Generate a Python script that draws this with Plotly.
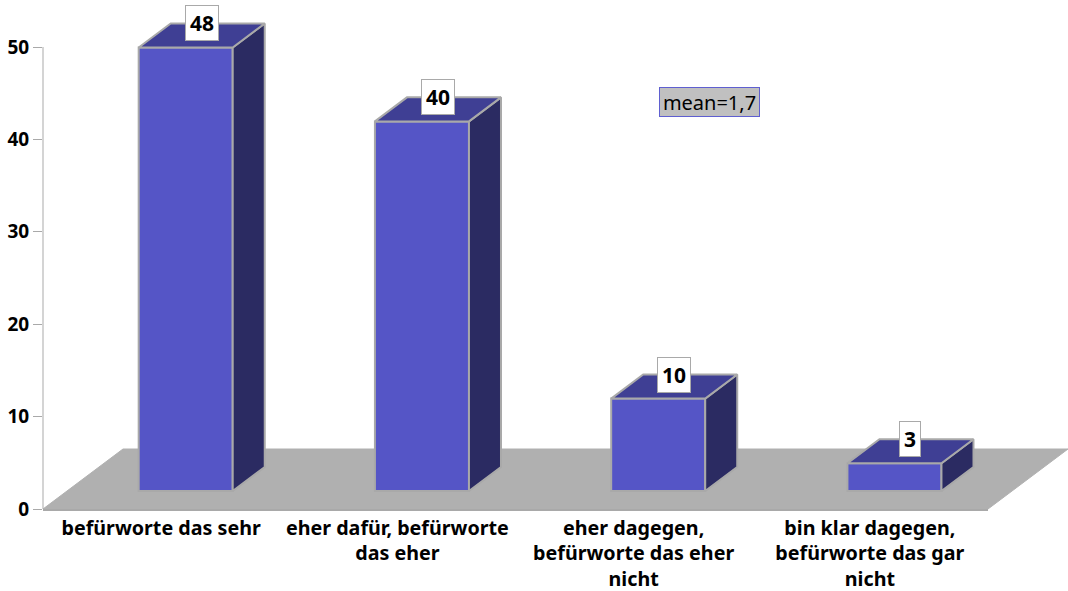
"""Survey result chart: 3D looking bars on a grey floor, built with Plotly."""

import plotly.graph_objects as go

categories = [
    "befürworte das sehr",
    "eher dafür, befürworte<br>das eher",
    "eher dagegen,<br>befürworte das eher<br>nicht",
    "bin klar dagegen,<br>befürworte das gar<br>nicht",
]
values = [48, 40, 10, 3]
y_ticks = [0, 10, 20, 30, 40, 50]
mean_label = "mean=1,7"

# fake 3D settings, in axis units
BAR_BASE = 1.95
BAR_SHIFT = 0.104
BAR_WIDTH = 0.398
DEPTH_X = 0.1356
DEPTH_Y = 2.6

FONT = "Noto Sans"
FRONT = "#5555c6"
TOP = "#3f3f94"
SIDE = "#2b2b62"
EDGE = "#a9a9a9"
FLOOR = "#b0b0b0"

# plot area in pixels. y range runs past 50 so the bar tops are not clipped
WIDTH, HEIGHT = 1068, 591
LEFT, RIGHT, UPPER, LOWER = 43, 80, 0, 82
PLOT_W = WIDTH - LEFT - RIGHT
PLOT_H = HEIGHT - UPPER - LOWER
Y_MAX = PLOT_H / 9.24


def paper_x(x):
    return (x + 0.5) / 4


def paper_y(y):
    return y / Y_MAX


fig = go.Figure()

left = [i + BAR_SHIFT - BAR_WIDTH / 2 for i in range(len(values))]
right = [i + BAR_SHIFT + BAR_WIDTH / 2 for i in range(len(values))]
top = [v + BAR_BASE for v in values]

fig.add_trace(go.Bar(
    x=[i + BAR_SHIFT for i in range(len(values))],
    y=values,
    base=BAR_BASE,
    width=BAR_WIDTH,
    marker=dict(color=FRONT, line=dict(color=EDGE, width=2)),
))

side_x, side_y, top_x, top_y = [], [], [], []
for l, r, t in zip(left, right, top):
    side_x += [r, r + DEPTH_X, r + DEPTH_X, r, r, None]
    side_y += [BAR_BASE, BAR_BASE + DEPTH_Y, t + DEPTH_Y, t, BAR_BASE, None]
    top_x += [l, l + DEPTH_X, r + DEPTH_X, r, l, None]
    top_y += [t, t + DEPTH_Y, t + DEPTH_Y, t, t, None]

for xs, ys, color in [(side_x, side_y, SIDE), (top_x, top_y, TOP)]:
    fig.add_trace(go.Scatter(
        x=xs,
        y=ys,
        mode='lines',
        fill='toself',
        fillcolor=color,
        line=dict(color=EDGE, width=2),
    ))

# floor reaches past the plot area, so it lives in paper units
floor_dx = 80 / PLOT_W
floor_dy = 60 / PLOT_H
fig.add_shape(
    type='path',
    xref='paper',
    yref='paper',
    path=f"M 0 0 L 1 0 L {1 + floor_dx} {floor_dy} L {floor_dx} {floor_dy} Z",
    fillcolor=FLOOR,
    line=dict(color=FLOOR, width=1),
    layer='below',
)

# axis line stops at the last tick
fig.add_shape(
    type='line',
    xref='paper',
    yref='paper',
    x0=0,
    x1=0,
    y0=0,
    y1=paper_y(max(y_ticks)),
    line=dict(color=EDGE, width=1),
)

for i, v in enumerate(values):
    fig.add_annotation(
        xref='paper',
        yref='paper',
        x=paper_x(i + BAR_SHIFT + DEPTH_X / 2),
        y=paper_y(v + BAR_BASE + DEPTH_Y),
        xanchor='center',
        yanchor='middle',
        text=f"<b>{v}</b>",
        showarrow=False,
        font=dict(family=FONT, size=21, color='black'),
        bgcolor='white',
        bordercolor=EDGE,
        borderwidth=1,
        width=12 * len(str(v)) + 6,
        height=32,
    )

fig.add_annotation(
    xref='paper',
    yref='paper',
    x=(709.5 - LEFT) / PLOT_W,
    y=(HEIGHT - LOWER - 102) / PLOT_H,
    xanchor='center',
    yanchor='middle',
    text=mean_label,
    showarrow=False,
    font=dict(family=FONT, size=20, color='black'),
    bgcolor='#c0c0c0',
    bordercolor='#5f5fd0',
    borderwidth=1,
    width=97,
    height=26,
)

fig.update_layout(
    width=WIDTH,
    height=HEIGHT,
    margin=dict(l=LEFT, r=RIGHT, t=UPPER, b=LOWER),
    paper_bgcolor='white',
    plot_bgcolor='rgba(0,0,0,0)',
    showlegend=False,
    font=dict(family=FONT, color='black'),
    xaxis=dict(
        range=[-0.5, 3.5],
        automargin=False,
        tickmode='array',
        tickvals=list(range(len(categories))),
        ticktext=[f"<b>{c}</b>" for c in categories],
        tickangle=0,
        ticks='',
        showgrid=False,
        zeroline=False,
        showline=True,
        linecolor=EDGE,
        linewidth=2,
        tickfont=dict(family=FONT, size=19.7, color='black'),
    ),
    yaxis=dict(
        range=[0, Y_MAX],
        automargin=False,
        tickmode='array',
        tickvals=y_ticks,
        ticktext=[f"<b>{t}</b>" for t in y_ticks],
        ticks='outside',
        ticklen=9,
        tickcolor=EDGE,
        showgrid=False,
        zeroline=False,
        showline=False,
        tickfont=dict(family=FONT, size=19, color='black'),
    ),
)

fig.write_html(
    "out.html",
    config={'displayModeBar': False},
    post_script="document.body.style.margin = '0';",
)
